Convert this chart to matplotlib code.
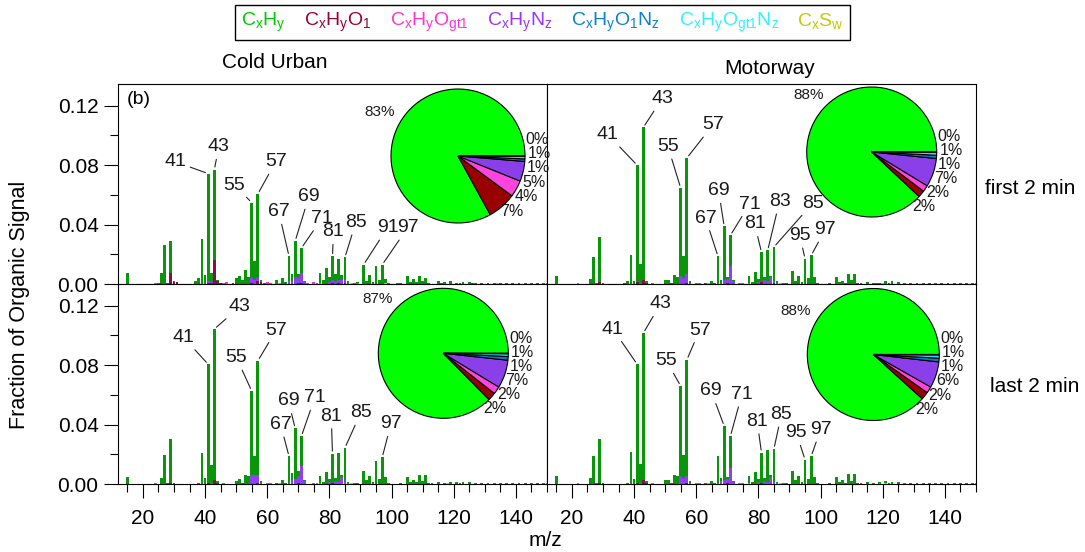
import numpy as np
import matplotlib
matplotlib.use('Agg')
import matplotlib.pyplot as plt
from matplotlib.lines import Line2D
from matplotlib.ticker import MultipleLocator, FormatStrFormatter

plt.rcParams['font.family'] = ['Liberation Sans', 'DejaVu Sans']
plt.rcParams['mathtext.default'] = 'regular'

# ion families, in stacking / pie order
fam_labels = [r'$C_xH_y$', r'$C_xH_yO_1$', r'$C_xH_yO_{gt1}$', r'$C_xH_yN_z$',
              r'$C_xH_yO_1N_z$', r'$C_xH_yO_{gt1}N_z$', r'$C_xS_w$']
fam_text_colors = ['#00C800', '#990033', '#FF33CC', '#9933FF', '#0A82CC', '#33F0FF', '#C8C800']
bar_colors = ['#0A960A', '#8E0A50', '#FF33CC', '#9040F0', '#0A82C8', '#40F0FF', '#C8C800']
pie_colors = ['#00FF00', '#990000', '#FF44DD', '#8A3FE8', '#1478B8', '#38D8F0', '#C8C800']

mz = np.arange(12, 151)

# ---- cold urban, first 2 min
hc_cu1 = {15: .0076, 25: .0008, 26: .0076, 27: .0262, 28: .0010, 29: .0214, 30: .0004, 37: .0020,
          38: .0040, 39: .0300, 40: .0060, 41: .0725, 42: .0065, 43: .0605, 44: .0005, 49: .0010,
          50: .0040, 51: .0056, 52: .0030, 53: .0094, 54: .0050, 55: .0510, 56: .0130, 57: .0566,
          58: .0010, 59: .0005, 63: .0030, 65: .0040, 66: .0015, 67: .0168, 68: .0048, 69: .0240,
          70: .0030, 71: .0166, 72: .0005, 77: .0070, 78: .0025, 79: .0105, 80: .0030, 81: .0160,
          82: .0055, 83: .0140, 84: .0030, 85: .0150, 86: .0008, 89: .0008, 91: .0130, 92: .0020,
          93: .0058, 94: .0015, 95: .0120, 96: .0030, 97: .0130, 98: .0030, 99: .0006, 103: .0008,
          105: .0054, 106: .0015, 107: .0035, 108: .0015, 109: .0054, 110: .0020, 111: .0040,
          112: .0010, 115: .0020, 116: .0008, 117: .0015, 119: .0012, 121: .0010, 122: .0008,
          123: .0012, 125: .0012, 126: .0008, 127: .0010, 129: .0010, 131: .0008, 133: .0008,
          135: .0008, 137: .0006, 139: .0006, 141: .0006, 143: .0005, 145: .0004, 147: .0004, 149: .0004}
o1_cu1 = {29: .0076, 30: .0016, 31: .0012, 41: .0010, 42: .0008, 43: .0160, 44: .0022, 45: .0010,
          55: .0008, 57: .0020, 58: .0015, 70: .0010, 71: .0006, 81: .0006, 83: .0008, 85: .0006}
ogt1_cu1 = {24: .0008, 46: .0010, 47: .0012, 60: .0012, 61: .0010, 73: .0010, 75: .0012, 76: .0010,
            77: .0006, 89: .0006, 150: .0008}
nz_cu1 = {41: .0008, 42: .0004, 43: .0004, 55: .0030, 56: .0025, 57: .0020, 67: .0020, 68: .0020,
          69: .0050, 70: .0030, 71: .0070, 72: .0015, 80: .0015, 81: .0020, 82: .0015, 83: .0020,
          84: .0030, 85: .0023, 86: .0010}
o1nz_cu1 = {88: .0006, 102: .0005, 119: .0006}
ogt1nz_cu1 = {87: .0005, 98: .0005, 134: .0006}
sw_cu1 = {64: .0004}
pie_cu1 = [83.0, 6.9, 4.0, 4.8, 0.6, 0.6, 0.1]

# ---- motorway, first 2 min
hc_mw1 = {15: .0056, 26: .0034, 27: .0180, 28: .0008, 29: .0300, 30: .0005, 37: .0008, 38: .0020,
          39: .0197, 40: .0020, 41: .0785, 42: .0130, 43: .1030, 44: .0010, 50: .0030, 51: .0030,
          52: .0010, 53: .0063, 54: .0045, 55: .0590, 56: .0150, 57: .0780, 58: .0010, 63: .0008,
          65: .0020, 66: .0008, 67: .0176, 68: .0020, 69: .0358, 70: .0015, 71: .0208, 72: .0005,
          77: .0047, 78: .0015, 79: .0079, 80: .0020, 81: .0198, 82: .0020, 83: .0207, 84: .0010,
          85: .0230, 86: .0008, 89: .0008, 91: .0085, 92: .0020, 93: .0056, 94: .0012, 95: .0170,
          96: .0040, 97: .0193, 98: .0047, 99: .0006, 103: .0008, 105: .0045, 106: .0015, 107: .0020,
          108: .0010, 109: .0070, 110: .0025, 111: .0070, 112: .0010, 113: .0008, 115: .0015,
          117: .0010, 119: .0010, 121: .0020, 122: .0010, 123: .0020, 125: .0015, 127: .0010,
          129: .0010, 131: .0010, 133: .0010, 135: .0010, 137: .0008, 139: .0008, 141: .0006,
          143: .0006, 145: .0005, 147: .0004, 149: .0004}
o1_mw1 = {29: .0014, 41: .0015, 43: .0024, 44: .0010, 57: .0008, 70: .0005, 81: .0015, 85: .0004}
ogt1_mw1 = {22: .0006, 46: .0008, 60: .0010, 61: .0008, 74: .0010, 75: .0010, 77: .0006, 150: .0006}
nz_mw1 = {42: .0005, 55: .0056, 56: .0040, 57: .0060, 58: .0008, 67: .0010, 68: .0010, 69: .0030,
          70: .0030, 71: .0120, 72: .0020, 80: .0015, 82: .0025, 83: .0020, 84: .0045, 85: .0015, 86: .0010}
o1nz_mw1 = {88: .0006, 118: .0006}
ogt1nz_mw1 = {87: .0006, 120: .0006}
sw_mw1 = {64: .0004}
pie_mw1 = [88.0, 1.7, 1.6, 7.1, 0.8, 0.7, 0.1]

# ---- cold urban, last 2 min
hc_cu2 = {15: .0045, 26: .0040, 27: .0194, 28: .0008, 29: .0296, 30: .0004, 38: .0010, 39: .0210,
          40: .0040, 41: .0796, 42: .0125, 43: .1013, 44: .0010, 50: .0020, 51: .0035, 52: .0010,
          53: .0063, 54: .0055, 55: .0566, 56: .0127, 57: .0769, 58: .0010, 63: .0005, 65: .0025,
          66: .0008, 67: .0177, 68: .0045, 69: .0339, 70: .0030, 71: .0198, 72: .0005, 77: .0045,
          78: .0012, 79: .0079, 80: .0025, 81: .0193, 82: .0020, 83: .0195, 84: .0010, 85: .0228,
          86: .0008, 89: .0008, 91: .0090, 92: .0025, 93: .0056, 94: .0012, 95: .0158, 96: .0035,
          97: .0180, 98: .0047, 99: .0006, 103: .0008, 105: .0047, 106: .0015, 107: .0030, 108: .0015,
          109: .0063, 110: .0020, 111: .0063, 112: .0010, 113: .0008, 115: .0015, 117: .0010,
          119: .0008, 121: .0015, 122: .0008, 123: .0012, 125: .0012, 127: .0010, 129: .0010,
          131: .0008, 133: .0008, 135: .0008, 137: .0008, 139: .0006, 141: .0006, 143: .0006,
          145: .0005, 147: .0004, 149: .0004}
o1_cu2 = {29: .0010, 41: .0010, 43: .0030, 44: .0010, 57: .0008, 70: .0006, 81: .0010}
ogt1_cu2 = {24: .0006, 46: .0008, 60: .0010, 61: .0008, 75: .0010, 76: .0008, 77: .0006, 150: .0006}
nz_cu2 = {42: .0005, 55: .0060, 56: .0060, 57: .0052, 58: .0010, 67: .0010, 68: .0030, 69: .0035,
          70: .0050, 71: .0124, 72: .0020, 80: .0012, 82: .0020, 83: .0015, 84: .0050, 85: .0015, 86: .0008}
o1nz_cu2 = {88: .0006, 119: .0006}
ogt1nz_cu2 = {87: .0005, 118: .0006}
sw_cu2 = {64: .0004}
pie_cu2 = [87.4, 2.0, 1.9, 7.0, 0.9, 0.7, 0.1]

# ---- motorway, last 2 min
hc_mw2 = {15: .0056, 26: .0040, 27: .0187, 28: .0008, 29: .0296, 30: .0004, 38: .0010, 39: .0214,
          40: .0035, 41: .0796, 42: .0130, 43: .0986, 44: .0010, 50: .0025, 51: .0030, 52: .0010,
          53: .0063, 54: .0055, 55: .0604, 56: .0154, 57: .0780, 58: .0010, 63: .0005, 65: .0020,
          66: .0008, 67: .0177, 68: .0020, 69: .0360, 70: .0015, 71: .0212, 72: .0005, 77: .0050,
          78: .0012, 79: .0079, 80: .0020, 81: .0200, 82: .0020, 83: .0212, 84: .0010, 85: .0221,
          86: .0008, 89: .0008, 91: .0086, 92: .0025, 93: .0056, 94: .0012, 95: .0164, 96: .0035,
          97: .0187, 98: .0047, 99: .0006, 103: .0008, 105: .0047, 106: .0015, 107: .0030, 108: .0010,
          109: .0070, 110: .0020, 111: .0070, 112: .0010, 113: .0008, 115: .0015, 117: .0010,
          119: .0008, 121: .0015, 122: .0008, 123: .0015, 125: .0012, 127: .0010, 129: .0010,
          131: .0008, 133: .0008, 135: .0008, 137: .0008, 139: .0006, 141: .0006, 143: .0006,
          145: .0005, 147: .0004, 149: .0004}
o1_mw2 = {29: .0010, 41: .0010, 43: .0030, 44: .0008, 57: .0006, 70: .0005, 81: .0010}
ogt1_mw2 = {22: .0006, 46: .0008, 60: .0010, 61: .0008, 74: .0010, 75: .0010, 77: .0006, 150: .0006}
nz_mw2 = {42: .0005, 55: .0056, 56: .0040, 57: .0050, 58: .0008, 67: .0010, 68: .0020, 69: .0030,
          70: .0030, 71: .0110, 72: .0015, 80: .0012, 82: .0020, 83: .0015, 84: .0050, 85: .0015, 86: .0008}
o1nz_mw2 = {88: .0006, 119: .0006}
ogt1nz_mw2 = {87: .0006, 121: .0006}
sw_mw2 = {64: .0004}
pie_mw2 = [88.3, 1.9, 1.6, 6.4, 0.9, 0.8, 0.1]

# labelled peaks and where their numbers sit (m/z, fraction)
peaks_cu1 = [41, 43, 55, 57, 67, 69, 71, 81, 85, 91, 97]
peak_text_cu1 = [(30.4, .0823), (44.4, .0924), (49.5, .0666), (62.7, .0823), (63.7, .0487), (73.4, .0588),
                 (77.6, .0442), (81.3, .0352), (88.5, .0415), (98.7, .0379), (105.2, .0379)]
peaks_mw1 = [41, 43, 55, 57, 67, 69, 71, 81, 83, 85, 95, 97]
peak_text_mw1 = [(31.6, .1005), (49.0, .1247), (50.9, .0926), (65.4, .1072), (63.0, .0444), (67.2, .0628),
                 (77.2, .0538), (78.8, .0404), (86.8, .0556), (97.5, .0545), (93.3, .0327), (101.5, .0366)]
peaks_cu2 = [41, 43, 55, 57, 67, 69, 71, 81, 85, 97]
peak_text_cu2 = [(33.1, .0986), (51.2, .1194), (50.1, .0851), (62.9, .1036), (64.3, .0401), (66.8, .0559),
                 (75.3, .0581), (80.6, .0457), (90.1, .0480), (99.8, .0405)]
peaks_mw2 = [41, 43, 55, 57, 69, 71, 81, 85, 95, 97]
peak_text_mw2 = [(33.2, .1043), (48.5, .1212), (50.4, .0829), (61.1, .1036), (64.8, .0626), (74.7, .0604),
                 (79.6, .0423), (87.4, .0468), (92.2, .0345), (100.0, .0367)]

W, H = 1085, 552


def fx(x):
    return x / W


def fy(y):
    return 1 - y / H


def to_array(d):
    v = np.zeros(len(mz))
    for k, val in d.items():
        v[k - mz[0]] = val
    return v


def draw_spectrum(ax, series, peaks, peak_text):
    # minor families stacked underneath, hydrocarbons on top
    order = [1, 2, 3, 4, 5, 6, 0]
    bottom = np.zeros(len(mz))
    for i in order:
        v = to_array(series[i])
        ax.bar(mz, v, width=0.9, bottom=bottom, color=bar_colors[i], linewidth=0, zorder=2)
        bottom = bottom + v
    for p, (tx, ty) in zip(peaks, peak_text):
        ax.annotate(str(p), xy=(p, bottom[p - mz[0]]), xytext=(tx, ty), ha='center', va='center',
                    fontsize=14, color='#1a1a1a',
                    arrowprops=dict(arrowstyle='-', color='#222222', lw=0.8, shrinkA=1, shrinkB=2))
    ax.set_xlim(12, 150)
    ax.set_ylim(0, 0.1346)
    ax.xaxis.set_major_locator(MultipleLocator(20))
    ax.xaxis.set_minor_locator(MultipleLocator(5))
    ax.yaxis.set_major_locator(MultipleLocator(0.04))
    ax.yaxis.set_minor_locator(MultipleLocator(0.02))
    ax.yaxis.set_major_formatter(FormatStrFormatter('%.2f'))
    ax.tick_params(which='major', direction='out', length=10, width=0.8, labelsize=15)
    ax.tick_params(which='minor', direction='out', length=5.5, width=0.8)
    ax.tick_params(axis='x', pad=8)
    ax.tick_params(axis='y', pad=4)
    for s in ax.spines.values():
        s.set_linewidth(0.8)
        s.set_color('black')


def draw_pie(cx, cy, r, frac, green_angle):
    pad = 1.03
    pax = fig.add_axes([fx(cx - pad * r), fy(cy + pad * r), 2 * pad * r / W, 2 * pad * r / H])
    pax.pie(frac, colors=pie_colors, startangle=0, counterclock=True,
            wedgeprops=dict(edgecolor='black', linewidth=0.8))
    pax.set_xlim(-pad, pad)
    pax.set_ylim(-pad, pad)
    tot = float(sum(frac))
    pct = ['%.0f%%' % (100 * f / tot) for f in frac]
    edges = np.cumsum([0.0] + list(frac)) / tot * 360
    mids = (edges[:-1] + edges[1:]) / 2
    a = np.radians(green_angle)
    pax.text(1.15 * np.cos(a), 1.15 * np.sin(a), pct[0], ha='right', va='center',
             fontsize=11, color='#1a1a1a')
    # small slices: stack labels down the right-hand rim
    idx = list(range(len(frac) - 1, 0, -1))
    ys = [1.1 * np.sin(np.radians(mids[i])) for i in idx]
    gap = 0.215
    for _ in range(300):
        for j in range(len(ys) - 1):
            d = ys[j] - ys[j + 1]
            if d < gap:
                push = (gap - d) / 2
                ys[j] += push
                ys[j + 1] -= push
    for i, y in zip(idx, ys):
        x = np.sqrt(max(1.04 ** 2 - y ** 2, 0.2))
        pax.text(x, y, pct[i], ha='left', va='center', fontsize=11.5, color='#1a1a1a')


fig = plt.figure(figsize=(W / 100, H / 100), dpi=100)

L0, L1, R1 = 118, 547, 976
T0, MID, B0 = 84, 284, 484
panels = [
    ((L0, T0, L1, MID), [hc_cu1, o1_cu1, ogt1_cu1, nz_cu1, o1nz_cu1, ogt1nz_cu1, sw_cu1], peaks_cu1, peak_text_cu1),
    ((L1, T0, R1, MID), [hc_mw1, o1_mw1, ogt1_mw1, nz_mw1, o1nz_mw1, ogt1nz_mw1, sw_mw1], peaks_mw1, peak_text_mw1),
    ((L0, MID, L1, B0), [hc_cu2, o1_cu2, ogt1_cu2, nz_cu2, o1nz_cu2, ogt1nz_cu2, sw_cu2], peaks_cu2, peak_text_cu2),
    ((L1, MID, R1, B0), [hc_mw2, o1_mw2, ogt1_mw2, nz_mw2, o1nz_mw2, ogt1nz_mw2, sw_mw2], peaks_mw2, peak_text_mw2),
]
for k, ((x0, y0, x1, y1), series, peaks, ptext) in enumerate(panels):
    ax = fig.add_axes([fx(x0), fy(y1), (x1 - x0) / W, (y1 - y0) / H])
    draw_spectrum(ax, series, peaks, ptext)
    if k < 2:
        ax.tick_params(axis='x', which='both', bottom=False, labelbottom=False)
    if k % 2 == 1:
        ax.tick_params(axis='y', which='both', left=False, labelleft=False)

draw_pie(458, 156, 67, pie_cu1, 145)
draw_pie(871.7, 152, 65, pie_mw1, 130)
draw_pie(443.3, 353.3, 65, pie_cu2, 133)
draw_pie(873.3, 354.5, 66, pie_mw2, 145)

handles = [Line2D([], [], linestyle='none') for _ in fam_labels]
leg = fig.legend(handles, fam_labels, loc='center', bbox_to_anchor=(fx(542.5), fy(22.5)), ncol=7,
                 fancybox=False, edgecolor='black', framealpha=1, handlelength=0, handletextpad=0,
                 columnspacing=0.95, fontsize=14, borderpad=0.3)
for t, c in zip(leg.get_texts(), fam_text_colors):
    t.set_color(c)
leg.get_frame().set_linewidth(1.0)

fig.text(fx(275), fy(62), 'Cold Urban', ha='center', va='center', fontsize=15)
fig.text(fx(770), fy(68), 'Motorway', ha='center', va='center', fontsize=15)
fig.text(fx(127), fy(99), '(b)', ha='left', va='center', fontsize=14)
fig.text(fx(985), fy(188), 'first 2 min', ha='left', va='center', fontsize=15)
fig.text(fx(990), fy(386), 'last 2 min', ha='left', va='center', fontsize=15)
fig.text(fx(20), fy(305), 'Fraction of Organic Signal', rotation=90, ha='center', va='center', fontsize=15.5)
fig.text(fx(545), fy(541), 'm/z', ha='center', va='center', fontsize=15)

fig.savefig('out.png', dpi=100)
